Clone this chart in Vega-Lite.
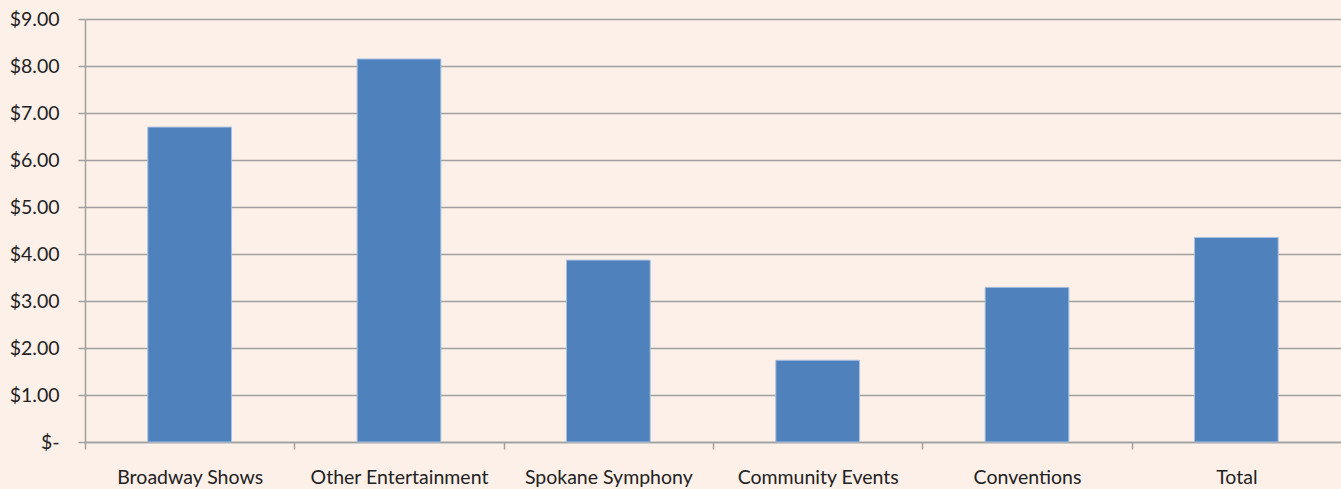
{
  "$schema": "https://vega.github.io/schema/vega-lite/v6.json",
  "autosize": {"type": "none"},
  "width": 1256,
  "height": 423,
  "padding": {"left": 85, "top": 19, "right": 0, "bottom": 47},
  "background": "#FDF0E9",
  "config": {"view": {"stroke": null}, "font": "Lato"},
  "data": {
    "values": [
      {"category": "Broadway Shows", "value": 6.70},
      {"category": "Other Entertainment", "value": 8.15},
      {"category": "Spokane Symphony", "value": 3.87},
      {"category": "Community Events", "value": 1.74},
      {"category": "Conventions", "value": 3.29},
      {"category": "Total", "value": 4.35}
    ]
  },
  "mark": {"type": "bar", "color": "#4F81BD", "stroke": "#A9C0DF", "strokeWidth": 1},
  "encoding": {
    "x": {
      "field": "category",
      "type": "nominal",
      "sort": null,
      "scale": {"paddingInner": 0.6, "paddingOuter": 0.3},
      "axis": {
        "title": null,
        "labelAngle": 0,
        "tickOffset": -104.67,
        "labelOffset": 104.67,
        "labelFontSize": 19.5,
        "labelColor": "#222222",
        "labelPadding": 19,
        "tickColor": "#A0A0A0",
        "tickSize": 7,
        "tickWidth": 1.5,
        "domainColor": "#A0A0A0",
        "domainWidth": 1.5,
        "grid": false
      }
    },
    "y": {
      "field": "value",
      "type": "quantitative",
      "scale": {"domain": [0, 9], "nice": false},
      "axis": {
        "title": null,
        "values": [0, 1, 2, 3, 4, 5, 6, 7, 8, 9],
        "labelExpr": "datum.value == 0 ? '$-' : '$' + format(datum.value, '.2f')",
        "labelFontSize": 19.5,
        "labelColor": "#222222",
        "labelPadding": 19,
        "tickColor": "#A0A0A0",
        "tickSize": 7,
        "tickWidth": 1.5,
        "domainColor": "#A0A0A0",
        "domainWidth": 1.5,
        "grid": true,
        "gridColor": "#A0A0A0",
        "gridWidth": 1.5,
        "gridOpacity": 1
      }
    }
  }
}
